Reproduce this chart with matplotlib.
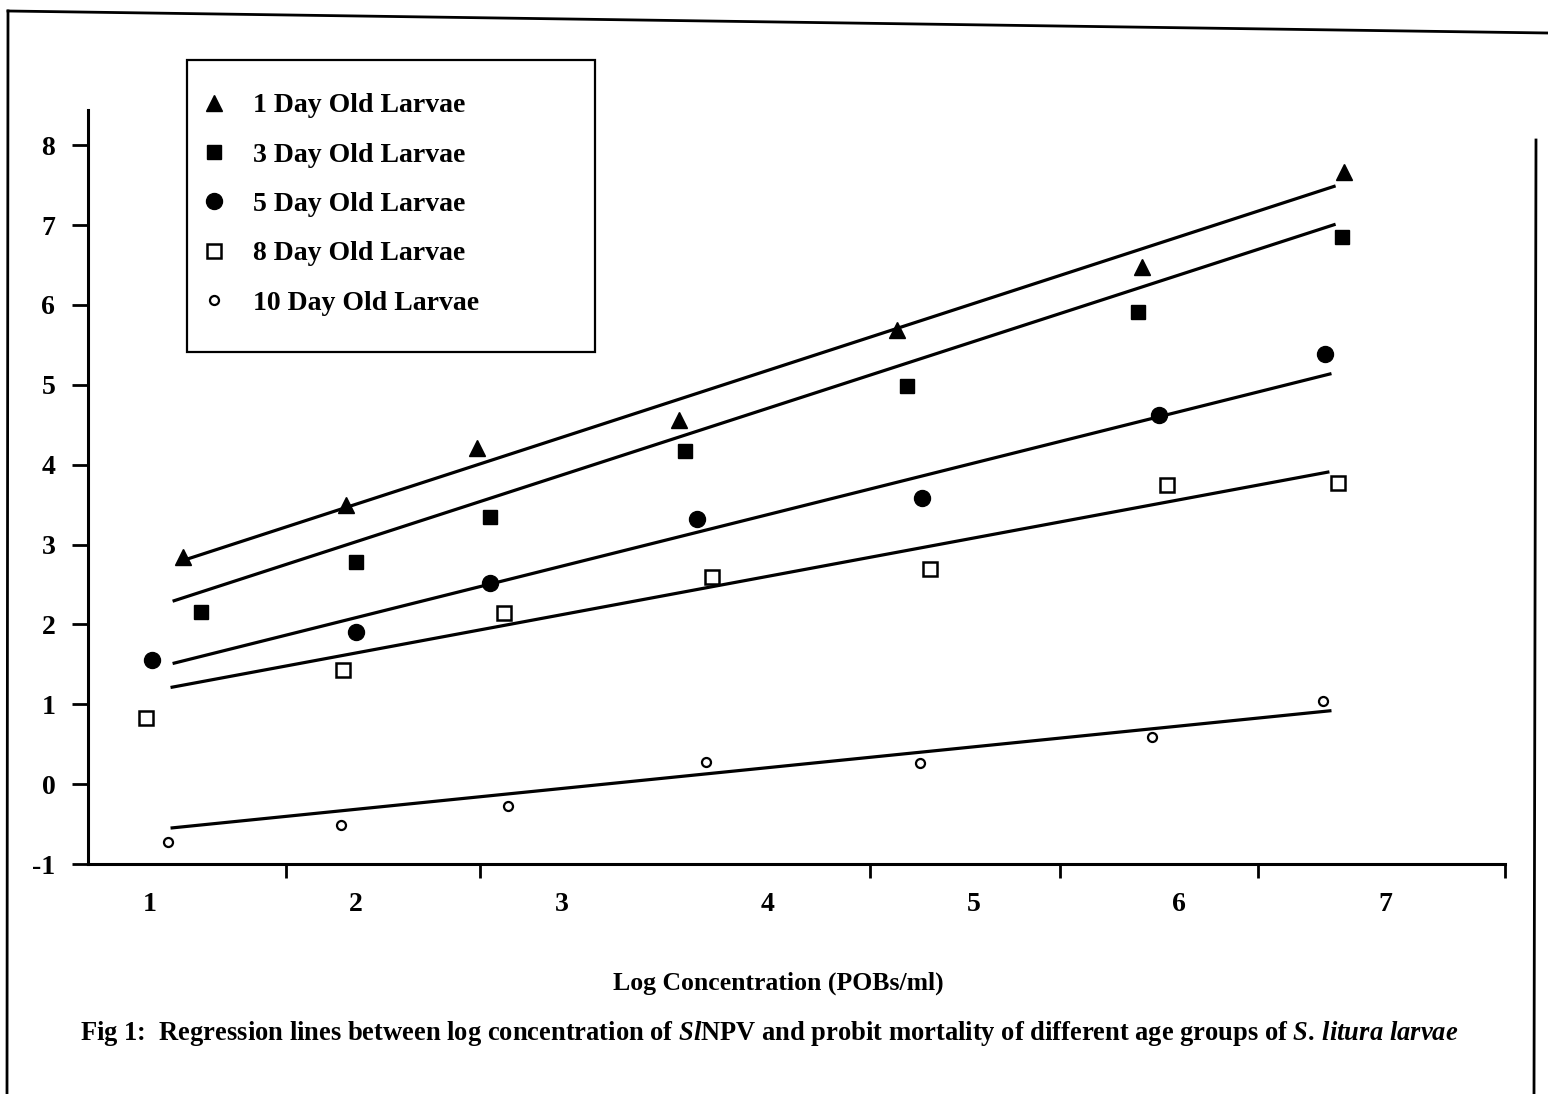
import matplotlib
matplotlib.use("Agg")
import matplotlib.pyplot as plt
from matplotlib.patches import Rectangle
from matplotlib.lines import Line2D

# ---------------------------------------------------------
# FONTS
# ---------------------------------------------------------
plt.rcParams['font.family'] = ['Liberation Serif', 'DejaVu Serif']
plt.rcParams['font.weight'] = 'bold'
plt.rcParams['mathtext.fontset'] = 'custom'
plt.rcParams['mathtext.rm'] = 'Liberation Serif:bold'
plt.rcParams['mathtext.it'] = 'Liberation Serif:italic:bold'
plt.rcParams['mathtext.bf'] = 'Liberation Serif:bold'

# ---------------------------------------------------------
# DATA
# ---------------------------------------------------------
series_names = ["1 Day Old Larvae", "3 Day Old Larvae", "5 Day Old Larvae",
                "8 Day Old Larvae", "10 Day Old Larvae"]

# observed probit mortality points
x_1d = [1.16, 1.95, 2.59, 3.57, 4.63, 5.82, 6.80]
y_1d = [2.84, 3.49, 4.21, 4.56, 5.68, 6.48, 7.66]

x_3d = [1.25, 2.00, 2.65, 3.60, 4.68, 5.80, 6.79]
y_3d = [2.15, 2.78, 3.34, 4.17, 4.99, 5.91, 6.85]

x_5d = [1.01, 2.00, 2.65, 3.66, 4.75, 5.90, 6.71]
y_5d = [1.55, 1.90, 2.52, 3.32, 3.58, 4.62, 5.39]

x_8d = [0.98, 1.94, 2.72, 3.73, 4.79, 5.94, 6.77]
y_8d = [0.83, 1.43, 2.14, 2.59, 2.69, 3.74, 3.77]

x_10d = [1.09, 1.93, 2.74, 3.70, 4.74, 5.87, 6.70]
y_10d = [-0.73, -0.51, -0.28, 0.28, 0.26, 0.59, 1.04]

# regression lines: start / end x and y
line_x0 = [1.16, 1.11, 1.11, 1.10, 1.10]
line_x1 = [6.76, 6.76, 6.74, 6.73, 6.74]
line_y0 = [2.80, 2.29, 1.51, 1.21, -0.55]
line_y1 = [7.49, 7.01, 5.14, 3.91, 0.92]

x_ticks = [1, 2, 3, 4, 5, 6, 7]
y_ticks = [-1, 0, 1, 2, 3, 4, 5, 6, 7, 8]
x_minor = [1.661, 2.603, 4.498, 5.421, 6.383, 7.583]

# ---------------------------------------------------------
# PLOT
# ---------------------------------------------------------
W, H = 1548, 1094
fig = plt.figure(figsize=(W / 100, H / 100), dpi=100)
fig.patch.set_facecolor('white')

ax = fig.add_axes([88 / W, 1 - 864 / H, (1505 - 88) / W, (864 - 110) / H])

xs = [x_1d, x_3d, x_5d, x_8d, x_10d]
ys = [y_1d, y_3d, y_5d, y_8d, y_10d]
styles = [
    dict(marker='^', ms=12, color='black', mec='black'),
    dict(marker='s', ms=10, color='black', mec='black'),
    dict(marker='o', ms=11.5, color='black', mec='black'),
    dict(marker='s', ms=9.5, color='black', mfc='white', mec='black', mew=1.8),
    dict(marker='o', ms=6.5, color='black', mfc='white', mec='black', mew=1.6),
]

handles = []
for i in range(5):
    h, = ax.plot(xs[i], ys[i], linestyle='none', label=series_names[i], **styles[i])
    handles.append(h)
    ax.plot([line_x0[i], line_x1[i]], [line_y0[i], line_y1[i]],
            color='black', lw=2.3, solid_capstyle='butt')

ax.set_xlim(0.699, 7.583)
ax.set_ylim(-1, 8.44)

for s in ['top', 'right']:
    ax.spines[s].set_visible(False)
for s in ['left', 'bottom']:
    ax.spines[s].set_linewidth(2.2)

ax.set_yticks(y_ticks)
ax.set_yticklabels([str(v) for v in y_ticks])
ax.tick_params(axis='y', which='major', direction='out', length=11.5, width=2,
               pad=12, labelsize=20)

ax.set_xticks(x_ticks)
ax.set_xticklabels([str(v) for v in x_ticks])
ax.tick_params(axis='x', which='major', length=0, pad=20, labelsize=20)
ax.set_xticks(x_minor, minor=True)
ax.tick_params(axis='x', which='minor', direction='out', length=10, width=2)

for lab in ax.get_xticklabels() + ax.get_yticklabels():
    lab.set_fontweight('bold')

ax.set_xlabel("Log Concentration (POBs/ml)", fontsize=18.5, fontweight='bold')
ax.xaxis.set_label_coords(0.487, -0.143)

# legend (box drawn separately)
leg = ax.legend(handles=handles, loc='upper left', frameon=False,
                bbox_to_anchor=(199 / W, 1 - 93 / H), bbox_transform=fig.transFigure,
                borderpad=0, borderaxespad=0, handlelength=1.1, handletextpad=0.85,
                labelspacing=0.86, prop={'size': 20, 'weight': 'bold'})
fig.add_artist(Rectangle((187 / W, 1 - 352 / H), (595 - 187) / W, (352 - 60) / H,
                         transform=fig.transFigure, fill=False, edgecolor='black',
                         linewidth=1.6))

# caption
fig.text(80 / W, 1 - 1033 / H,
         r"Fig 1:  Regression lines between log concentration of $\mathit{Sl}$NPV and "
         r"probit mortality of different age groups of $\mathit{S.\,litura\ larvae}$",
         fontsize=19.1, fontweight='bold', ha='left', va='center')

# page frame of the scan
fig.add_artist(Line2D([8 / W, 1.0], [1 - 11 / H, 1 - 33 / H], transform=fig.transFigure,
                      color='black', lw=2))
fig.add_artist(Line2D([8 / W, 7 / W], [1 - 11 / H, 0], transform=fig.transFigure,
                      color='black', lw=2))
fig.add_artist(Line2D([1536 / W, 1534 / W], [1 - 140 / H, 0], transform=fig.transFigure,
                      color='black', lw=2))

fig.savefig("out.png", dpi=100)
